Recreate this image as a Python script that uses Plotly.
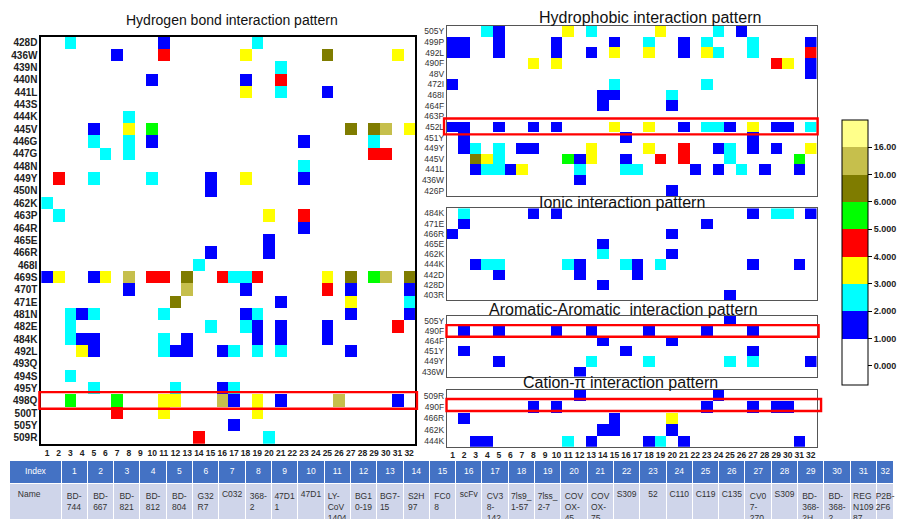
import plotly.graph_objects as go

W, H = 907, 519
COLS = list(range(1, 33))

# colour levels (interaction counts) used by every panel
LEVEL_CODES = ["B", "C", "Y", "R", "G", "O", "L", "W"]
LEVEL_COLORS = ["#0000FF", "#00FFFF", "#FFFF00", "#FF0000", "#00FF00",
                "#7F7C00", "#C6BF4C", "#FFFF8A"]
CB_TICKTEXT = ["0.000", "1.000", "2.000", "3.000", "4.000", "5.000",
               "6.000", "10.00", "16.00"]

# ---------------- data (cells: level-code + antibody index) ----------------
HB_ROWS = ["428D", "436W", "439N", "440N", "441L", "443S", "444K", "445V",
           "446G", "447G", "448N", "449Y", "450N", "462K", "463P", "464R",
           "465E", "466R", "468I", "469S", "470T", "471E", "481N", "482E",
           "484K", "492L", "493Q", "494S", "495Y", "498Q", "500T", "505Y",
           "509R"]
HB_CELLS = [
    "C3 B11 C19",
    "B7 R11 Y18 O25 Y31",
    "C21",
    "B10 B18 R21",
    "Y18 C21 B25",
    "",
    "C8",
    "B5 Y8 G10 O27 O29 L30 Y32",
    "C5 C8 B10 B23 C29",
    "C6 C8 R29 R30",
    "C23",
    "R2 C5 C10 B15 Y18 B23",
    "B15",
    "C1",
    "C2 Y20 R23",
    "B23",
    "B20",
    "B15 B20",
    "C14",
    "B1 Y2 B5 Y6 L8 R10 R11 O13 R16 C17 C18 R19 Y25 O27 G29 L30 O32",
    "B8 L13 B18 R25 B27 B32",
    "O12 B21 Y27 C32",
    "C3 B4 C5 C11 B18 C19 B27 B32",
    "C3 C15 C18 B19 B21 B25 R31",
    "C3 B4 B5 C11 B13 B19 B21 B25",
    "Y4 B5 C11 B12 B13 B16 C17 C19 C21 B27",
    "",
    "C3",
    "C5 C12 B16 C17",
    "G3 G7 Y11 Y12 L16 B17 Y19 B21 L26 B31",
    "R7 Y11 Y19",
    "B17",
    "R14 C20",
]

HP_ROWS = ["505Y", "499P", "492L", "490F", "48V", "472I", "468I", "464F",
           "463P", "452L", "451Y", "449Y", "445V", "441L", "436W", "426P"]
HP_CELLS = [
    "C4 B5 Y11 C13 Y19 C24 B26",
    "B1 B2 B5 B10 B15 C18 B21 C23 C27 B32",
    "B1 B2 B5 B10 B13 Y15 Y18 B21 Y23 C24 C27 R32",
    "Y8 Y10 R29 Y30 B32",
    "B32",
    "B1 C15 C23",
    "B14 B15 C20",
    "B14 B20",
    "",
    "B1 B2 B5 B8 B10 Y15 Y18 B21 C23 C24 B25 Y27 B29 B30 C32",
    "B2 B16 B27",
    "B2 C3 C5 B7 B8 Y13 Y18 R21 B24 C25 B27 B29 Y32",
    "O3 Y4 C5 G11 B12 Y13 B16 R19 R21 C25 G31",
    "B3 C4 C5 B6 Y7 C12 C16 C17 B22 B24 C26 B28 B31",
    "B12",
    "B20",
]

IO_ROWS = ["484K", "471E", "466R", "465E", "462K", "444K", "442D", "428D", "403R"]
IO_CELLS = [
    "C2 B8 B10 B27 C29 C30 B32",
    "B2 B23",
    "B1 B20",
    "B14",
    "C14 B20",
    "B3 C4 C5 C11 B12 C16 B17 C19 B27 B31",
    "B5 B12 B17",
    "B14",
    "B25",
]

AR_ROWS = ["505Y", "490F", "464F", "451Y", "449Y", "436W"]
AR_CELLS = [
    "B25",
    "B2 B5 B10 B13 B18 B23 B27",
    "B14 B20",
    "B2 B16 B27",
    "B5 C13 C18 C25 C27 B32",
    "B12",
]

CP_ROWS = ["509R", "490F", "466R", "462K", "444K"]
CP_CELLS = [
    "B12 B24",
    "B8 B10 B23 B27 B29 B30",
    "B2 B15 Y20",
    "B14 B15 B20",
    "B3 B4 C11 B13 B18 C19 B21 B31",
]

TABLE_INDEX = ["Index"] + [str(i) for i in COLS]
TABLE_NAMES = ["Name", "BD-<br>744", "BD-<br>667", "BD-<br>821", "BD-<br>812",
               "BD-<br>804", "G32<br>R7", "C032", "368-<br>2", "47D1<br>1",
               "47D1", "LY-<br>CoV<br>1404", "BG1<br>0-19", "BG7-<br>15",
               "S2H<br>97", "FC0<br>8", "scFv", "CV3<br>8-<br>142",
               "7ls9_<br>1-57", "7lss_<br>2-7", "COV<br>OX-<br>45",
               "COV<br>OX-<br>75", "S309", "52", "C110", "C119", "C135",
               "CV0<br>7-<br>270", "S309", "BD-<br>368-<br>2H",
               "BD-<br>368-<br>2", "REG<br>N109<br>87", "P2B-<br>2F6"]

TITLES = ["Hydrogen bond interaction pattern", "Hydrophobic interaction pattern",
          "Ionic interaction pattern", "Aromatic-Aromatic  interaction pattern",
          "Cation-\u03c0 interaction pattern"]


def build_z(cells):
    z = []
    for row in cells:
        vals = [None] * len(COLS)
        for tok in row.split():
            lvl = LEVEL_CODES.index(tok[0])
            vals[int(tok[1:]) - 1] = lvl + 0.5
        z.append(vals)
    return z


def dx(a, b):
    return [a / W, b / W]


def dy(top, bottom):
    return [1 - bottom / H, 1 - top / H]


FONT = "Liberation Sans, Arial, sans-serif"

# panel geometry (px): x-left, x-right, y-top, y-bottom
panels = [
    dict(rows=HB_ROWS, cells=HB_CELLS, box=(41.8, 421, 36.7, 444)),
    dict(rows=HP_ROWS, cells=HP_CELLS, box=(453.3, 828.5, 26, 196)),
    dict(rows=IO_ROWS, cells=IO_CELLS, box=(453.3, 828.5, 208.3, 300)),
    dict(rows=AR_ROWS, cells=AR_CELLS, box=(453.3, 828.5, 315.7, 376.7)),
    dict(rows=CP_ROWS, cells=CP_CELLS, box=(453.3, 828.5, 390, 446.7)),
]

fig = go.Figure()
layout_axes = {}
for i, p in enumerate(panels, start=1):
    sfx = "" if i == 1 else str(i)
    n = len(p["rows"])
    fig.add_trace(go.Heatmap(
        x=COLS, y=list(range(n)), z=build_z(p["cells"]),
        coloraxis="coloraxis", xaxis="x" + sfx, yaxis="y" + sfx,
        hoverinfo="skip", xgap=0, ygap=0))
    x0, x1, y0, y1 = p["box"]
    main = i == 1
    show_x = i in (1, 5)
    layout_axes["xaxis" + sfx] = dict(
        domain=dx(x0, x1), range=[0.5, 32.5], anchor="y" + sfx,
        showgrid=False, zeroline=False, showline=True, mirror=True,
        linecolor="#000" if main else "#555", linewidth=1.6 if main else 1,
        tickmode="array", tickvals=COLS, showticklabels=show_x, ticks="",
        tickangle=0,
        tickfont=dict(family=FONT, size=8.5, color="#222", weight="bold"))
    layout_axes["yaxis" + sfx] = dict(
        domain=dy(y0, y1), range=[n - 0.5, -0.5], anchor="x" + sfx,
        showgrid=False, zeroline=False, showline=True, mirror=True,
        linecolor="#000" if main else "#555", linewidth=1.6 if main else 1,
        tickmode="array", tickvals=list(range(n)), ticktext=p["rows"], ticks="",
        tickfont=dict(family=FONT, size=10 if main else 8.5,
                      color="#222" if main else "#333",
                      weight="bold" if main else "normal"))

# discrete colour scale
cmin, cmax = -1.7, 8.0
span = cmax - cmin
cscale = [[0.0, "#FFFFFF"], [(0 - cmin) / span, "#FFFFFF"]]
for k, col in enumerate(LEVEL_COLORS):
    cscale.append([(k - cmin) / span, col])
    cscale.append([(k + 1 - cmin) / span, col])

# table
fig.add_trace(go.Table(
    domain=dict(x=[10 / W, 1], y=[0, 59 / H]),
    columnwidth=[52] + [26.7] * 31 + [17.6],
    header=dict(values=TABLE_INDEX, fill_color="#4472C4",
                font=dict(family=FONT, color="white", size=8.5),
                align="center", height=23, line=dict(color="white", width=1)),
    cells=dict(values=[[v] for v in TABLE_NAMES], fill_color="#CFD5EA",
               font=dict(family=FONT, color="#333", size=8.5),
               align=["left"] + ["center"] * 32, height=36,
               line=dict(color="white", width=1))))

# highlight rectangles (x in paper px, y in row units of each panel)
rects = [("y", 40, 423, 28.3, 29.65),
         ("y2", 450.5, 829.5, 8.2, 9.7),
         ("y4", 453, 830.5, 0.43, 1.57),
         ("y5", 453, 833, 0.3, 1.35)]
shapes = [dict(type="rect", xref="paper", yref=b, x0=u0 / W, x1=u1 / W, y0=v0, y1=v1,
               line=dict(color="#FF0000", width=2.4), layer="above")
          for b, u0, u1, v0, v1 in rects]

# panel titles
title_pos = [(235, 20, 14), (659, 18, 16), (631, 202, 16), (633, 309, 16), (630, 382, 16)]
annotations = [dict(text=t, x=px / W, y=1 - py / H, xref="paper", yref="paper",
                    xanchor="center", yanchor="middle", showarrow=False,
                    font=dict(family=FONT, size=s, color="#111"))
               for t, (px, py, s) in zip(TITLES, title_pos)]

fig.update_layout(
    width=W, height=H, margin=dict(l=0, r=0, t=0, b=0),
    paper_bgcolor="white", plot_bgcolor="white",
    font=dict(family=FONT),
    coloraxis=dict(
        cmin=cmin, cmax=cmax, colorscale=cscale,
        colorbar=dict(
            x=844 / W, xanchor="left", xref="paper",
            y=1 - 252.5 / H, yanchor="middle", yref="paper",
            len=285, lenmode="pixels", thickness=26, thicknessmode="pixels",
            outlinecolor="#000", outlinewidth=1,
            tickmode="array", tickvals=list(range(-1, 8)), ticktext=CB_TICKTEXT,
            ticks="outside", ticklen=4, tickcolor="#000",
            tickfont=dict(family=FONT, size=9, color="#222", weight="bold"))),
    shapes=shapes, annotations=annotations, showlegend=False,
    **layout_axes)

fig.write_html("out.html",
               config={"displayModeBar": False},
               post_script="document.body.style.margin='0';"
                           "document.body.style.padding='0';"
                           "document.body.style.overflow='hidden';")
